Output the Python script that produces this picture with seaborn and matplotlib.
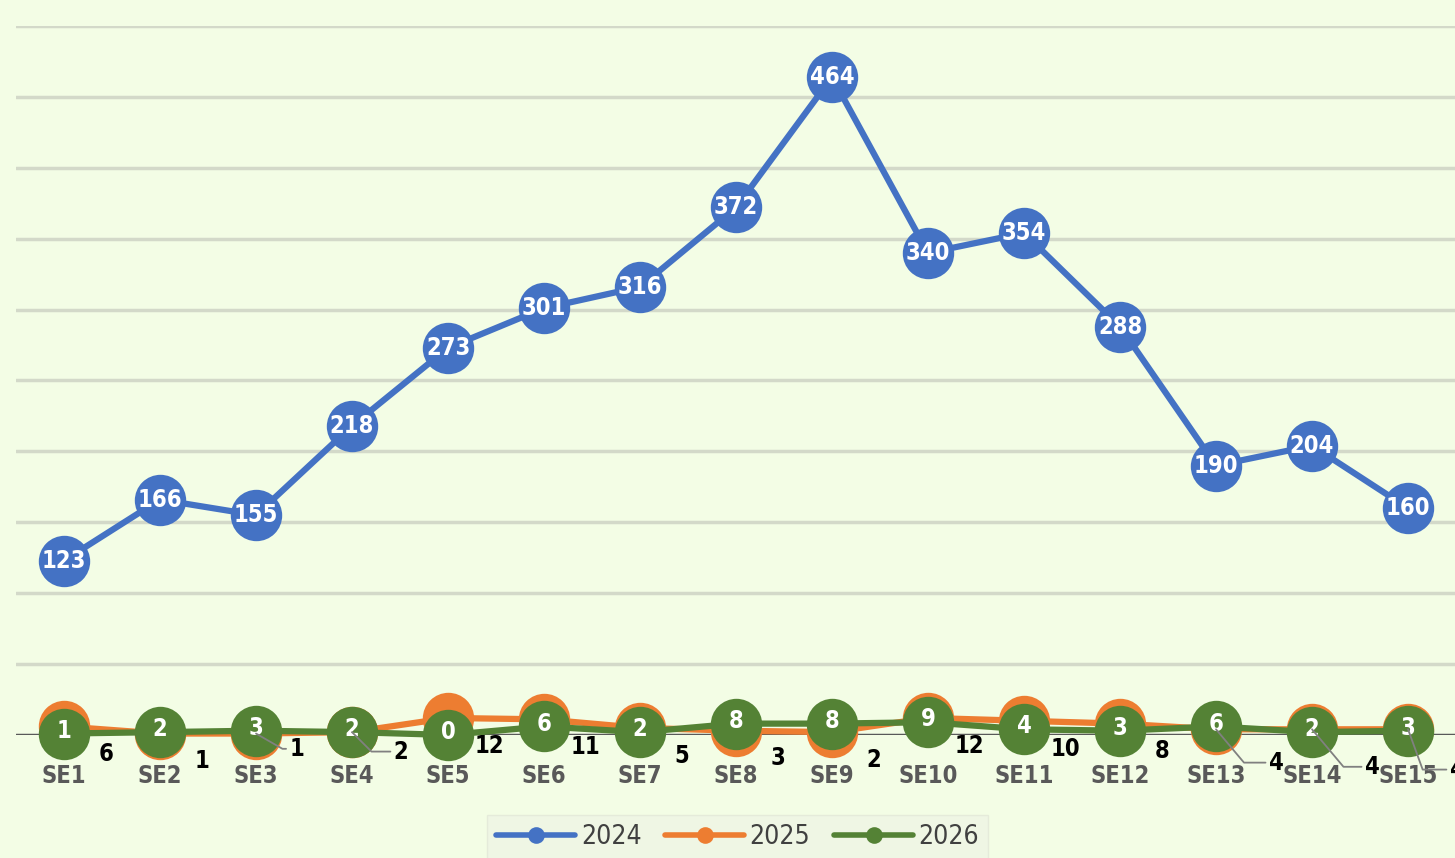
import pandas as pd
import numpy as np
import matplotlib.pyplot as plt
import seaborn as sns

# data
weeks = ['SE1', 'SE2', 'SE3', 'SE4', 'SE5', 'SE6', 'SE7', 'SE8', 'SE9', 'SE10',
         'SE11', 'SE12', 'SE13', 'SE14', 'SE15']
y2024 = [123, 166, 155, 218, 273, 301, 316, 372, 464, 340, 354, 288, 190, 204, 160]
y2025 = [6, 1, 1, 2, 12, 11, 5, 3, 2, 12, 10, 8, 4, 4, 4]
y2026 = [1, 2, 3, 2, 0, 6, 2, 8, 8, 9, 4, 3, 6, 2, 3]
years = ['2024', '2025', '2026']
colors = ['#4472C4', '#ED7D31', '#548235']

df = pd.concat([
    pd.DataFrame({'week': weeks, 'value': vals, 'year': yr})
    for yr, vals in zip(years, [y2024, y2025, y2026])
])

sns.set_style("white")
plt.rcParams['font.family'] = ['DejaVu Sans']
plt.rcParams['font.stretch'] = 'condensed'
bg = '#F3FDE5'

fig = plt.figure(figsize=(14.55, 8.58), dpi=100, facecolor=bg)
ax = fig.add_axes([0.011, 0.1434, 0.9897, 0.8263])
ax.set_facecolor(bg)

# gridlines
for g in range(50, 501, 50):
    ax.axhline(g, color='#d3d9c9', lw=2.5, zorder=0)
ax.axhline(0, color='#595959', lw=2.5, zorder=1)

sns.lineplot(data=df, x='week', y='value', hue='year', palette=colors,
             sort=False, marker='o', markersize=37, linewidth=4.5,
             markeredgewidth=0, ax=ax, clip_on=False, zorder=3)

ax.set_xlim(-0.5, 14.5)
ax.set_ylim(0, 500)
ax.set_yticks([])
ax.set_xlabel('')
ax.set_ylabel('')
for s in ax.spines.values():
    s.set_visible(False)
ax.set_xticks(range(len(weeks)))
ax.set_xticklabels(weeks, fontsize=17, fontweight='bold', color='#595959')
ax.tick_params(axis='x', length=0, pad=21)

# labels
for i, v in enumerate(y2024):
    ax.text(i, v, str(v), ha='center', va='center', color='white',
            fontsize=17, fontweight='bold', zorder=6, clip_on=False)
for i, v in enumerate(y2026):
    ax.text(i, v + 2, str(v), ha='center', va='center', color='white',
            fontsize=17, fontweight='bold', zorder=6, clip_on=False)
leader = {2: (24, -11, -30), 3: (30, -14, -45), 12: (38, -24, -50),
          13: (38, -27, -50), 14: (30, -29, -70)}
for i, v in enumerate(y2025):
    if i in leader:
        dx, dy, ang = leader[i]
        ax.annotate(str(v), xy=(i, v), xytext=(dx, dy), textcoords='offset points',
                    ha='left', va='center', fontsize=17, fontweight='bold',
                    color='black', zorder=7, annotation_clip=False,
                    arrowprops=dict(arrowstyle='-', color='#808080', lw=1.3,
                                    shrinkA=0, shrinkB=0,
                                    connectionstyle=f'angle,angleA=0,angleB={ang},rad=0'))
    else:
        ax.annotate(str(v), xy=(i, v), xytext=(30, -20), textcoords='offset points',
                    ha='center', va='center', fontsize=17, fontweight='bold',
                    color='black', zorder=7, annotation_clip=False)

ax.get_legend().remove()
handles, labels = ax.get_legend_handles_labels()
leg = fig.legend(handles, labels, loc='upper center', bbox_to_anchor=(0.507, 0.05),
                 ncol=3, frameon=True, fancybox=False, fontsize=19,
                 handlelength=3.0, columnspacing=0.9, handletextpad=0.2,
                 borderpad=0.35, borderaxespad=0)
leg.get_frame().set_facecolor('#eef5e4')
leg.get_frame().set_edgecolor('#e2e8d8')
for t in leg.get_texts():
    t.set_color('#404040')
for h in leg.get_lines():
    h.set_markersize(12)
    h.set_linewidth(4)

fig.savefig('out.png', dpi=100, facecolor=bg)
